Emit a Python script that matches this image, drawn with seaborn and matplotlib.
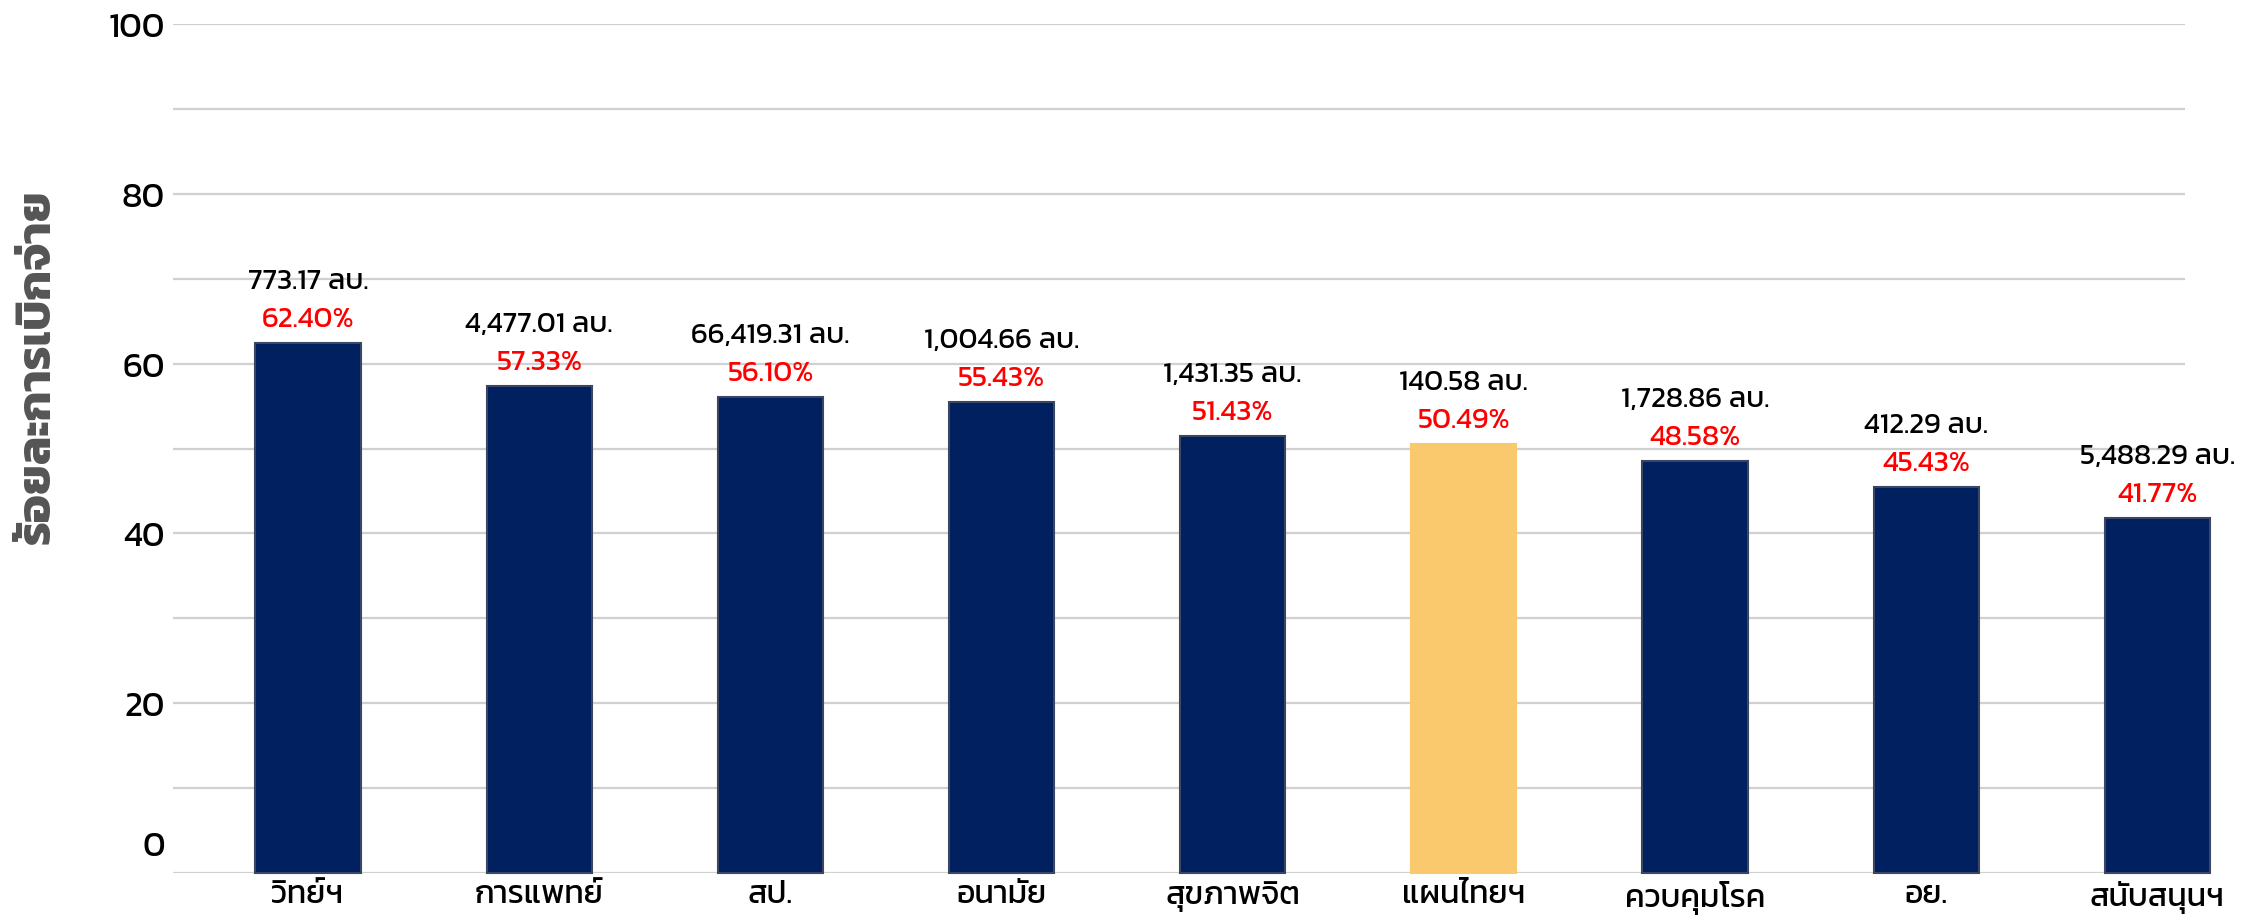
import matplotlib
matplotlib.use("Agg")
import matplotlib.pyplot as plt
from matplotlib import font_manager
from matplotlib.ft2font import FT2Font
from matplotlib.ticker import MultipleLocator
from matplotlib.transforms import ScaledTranslation
import seaborn as sns
import pandas as pd

# ---- data ----
units = ["วิทย์ฯ", "การแพทย์", "สป.", "อนามัย", "สุขภาพจิต",
         "แผนไทยฯ", "ควบคุมโรค", "อย.", "สนับสนุนฯ"]
percent = [62.40, 57.33, 56.10, 55.43, 51.43, 50.49, 48.58, 45.43, 41.77]
amounts = ["773.17", "4,477.01", "66,419.31", "1,004.66", "1,431.35",
           "140.58", "1,728.86", "412.29", "5,488.29"]
amount_unit = "ลบ."
y_label = "ร้อยละการเบิกจ่าย"
highlight = "แผนไทยฯ"

NAVY = "#002060"
YELLOW = "#FAC96E"


def find_thai_font():
    pref = ["Kanit", "Prompt", "Mitr", "Sarabun", "Noto Sans Thai", "Noto Sans Thai UI",
            "Noto Sans Thai Looped", "Loma", "Garuda", "Waree", "Umpush", "Tlwg Typo",
            "Norasi", "Laksaman", "Kinnari", "Sawasdee", "Purisa"]
    found = {}
    for f in font_manager.fontManager.ttflist:
        try:
            ft = FT2Font(f.fname)
            if ft.get_char_index(ord("ก")) and ft.get_char_index(ord("์")):
                found.setdefault(f.name, f.fname)
        except Exception:
            pass
    for p in pref:
        if p in found:
            return p
    return next(iter(found), None)


sns.set_theme(style="white")
thai = find_thai_font()
fams = ([thai] if thai else []) + ["DejaVu Sans"]
plt.rcParams["font.family"] = fams

df = pd.DataFrame({"unit": units, "pct": percent})
colors = {u: (YELLOW if u == highlight else NAVY) for u in units}

fig = plt.figure(figsize=(22.5, 9.2), dpi=100)
ax = fig.add_axes([173 / 2250, 46 / 920, (2185 - 173) / 2250, (874 - 25) / 920])

sns.barplot(data=df, x="unit", y="pct", hue="unit", palette=colors, legend=False,
            width=0.455, ax=ax, zorder=3, saturation=1)

for p, u in zip(ax.patches, units):
    p.set_clip_on(False)
    if u == highlight:
        p.set_edgecolor(YELLOW)
    else:
        p.set_edgecolor("#3b4761")
    p.set_linewidth(1.5)

for i, (u, v, a) in enumerate(zip(units, percent, amounts)):
    ax.annotate(f"{v:.2f}%", xy=(i, v), xytext=(0, 24), textcoords="offset pixels",
                ha="center", va="center", color="#FF0000", fontsize=21,
                annotation_clip=False)
    ax.annotate(f"{a} {amount_unit}", xy=(i, v), xytext=(0, 62), textcoords="offset pixels",
                ha="center", va="center", color="black", fontsize=21,
                annotation_clip=False)

ax.set_xlim(-0.584, 8.12)
ax.set_ylim(0, 100)
ax.yaxis.set_major_locator(MultipleLocator(20))
ax.yaxis.set_minor_locator(MultipleLocator(10))
ax.grid(True, which="both", axis="y", color="#d0d0d0", linewidth=1.6, zorder=0)
ax.grid(False, axis="x")
ax.set_axisbelow(True)
for s in ax.spines.values():
    s.set_visible(False)
ax.tick_params(axis="y", which="both", length=0, pad=6, labelsize=25, labelcolor="black")
ax.tick_params(axis="x", length=0, pad=5, labelsize=23, labelcolor="black")
ax.set_xlabel("")
ax.set_ylabel("")

# the "0" label sits a little above its gridline in the reference
fig.canvas.draw()
for lab in ax.get_yticklabels():
    if lab.get_text() == "0":
        lab.set_transform(lab.get_transform() + ScaledTranslation(0, 0.30, fig.dpi_scale_trans))

fig.text(0.017, 0.601, y_label, rotation=90, ha="center", va="center",
         fontsize=34, fontweight="bold", color="#555555")

fig.savefig("out.png", dpi=100, facecolor="white")
